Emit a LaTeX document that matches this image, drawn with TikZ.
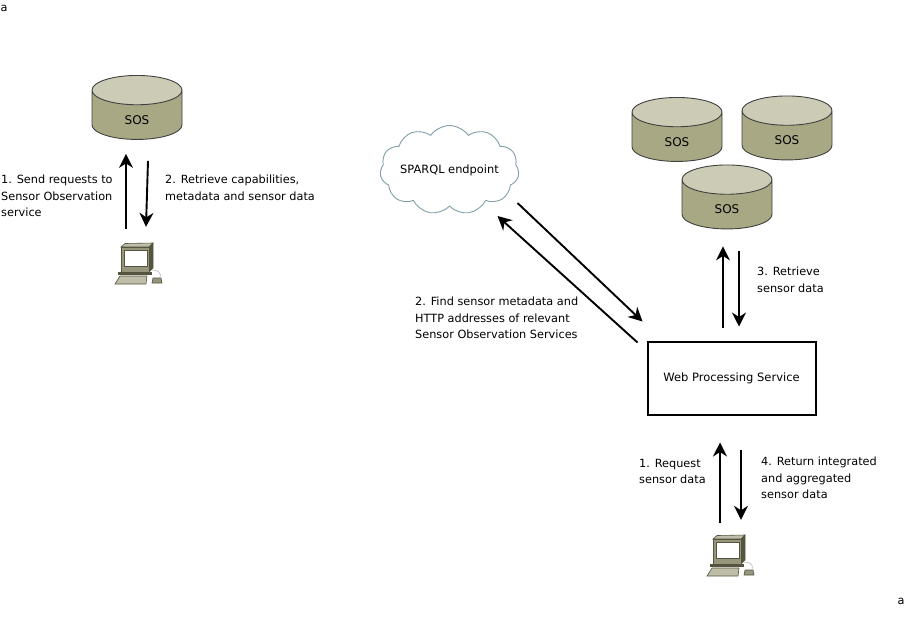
\documentclass[tikz,border=0pt]{standalone}
\usepackage{fontspec}
\setmainfont{DejaVu Sans}
\usepackage{xcolor}
\usetikzlibrary{shapes.geometric, shapes.symbols, arrows.meta, positioning}

\definecolor{sosbody}{HTML}{A8A884}
\definecolor{sostop}{HTML}{CCCCB6}
\definecolor{clouddraw}{HTML}{7F9EA8}
\definecolor{pcdark}{HTML}{55553F}
\definecolor{pcmid}{HTML}{96967C}
\definecolor{pclight}{HTML}{BEBEA8}

\tikzset{
  pics/computer/.style={code={
    \filldraw[fill=pclight, draw=pcdark, line width=0.6pt] (-16,-18) -- (-12,-21.5) -- (16,-22) -- (12,-18) -- cycle;
    \filldraw[fill=pcdark, draw=pcdark, line width=0.6pt] (12,-18) -- (16,-22) -- (16,3) -- (12,7) -- cycle;
    \filldraw[fill=pcmid, draw=pcdark, line width=0.8pt] (-16,-18) rectangle (12,7);
    \filldraw[fill=white, draw=pcdark, line width=0.6pt] (-13,-15) rectangle (10,1);
    \fill[pcdark] (-19,7) rectangle (15,10);
    \filldraw[fill=pclight, draw=pcdark, line width=0.6pt] (-17,11) -- (10,11) -- (9,19) -- (-22,19) -- cycle;
    \filldraw[fill=pcmid, draw=pcdark, line width=0.6pt] (16,13) -- (24,13) -- (25,18) -- (15,18) -- cycle;
    \draw[gray!50, line width=0.7pt] (15,5) .. controls (20,5) and (25,7) .. (23,13);
  }}
}

\begin{document}
\begin{tikzpicture}[
  x=1pt, y=-1pt,
  sos/.style={cylinder, shape border rotate=90, aspect=1.5, draw=black!75, line width=0.9pt, cylinder uses custom fill, cylinder body fill=sosbody, cylinder end fill=sostop, minimum width=90pt, minimum height=64pt, inner sep=0pt, font=\fontsize{9.5}{11}\selectfont},
  sosname/.style={yshift=-5pt, inner sep=0pt, font=\fontsize{12}{13}\selectfont},
  endpoint/.style={cloud, cloud puffs=11, cloud puff arc=110, aspect=1.5, draw=clouddraw, line width=0.9pt, minimum width=139pt, minimum height=89pt, inner sep=-12pt, font=\fontsize{11.4}{13}\selectfont},
  service/.style={rectangle, draw, line width=2pt, minimum width=168pt, minimum height=73pt, font=\fontsize{11.5}{13}\selectfont},
  station/.style={minimum width=46pt, minimum height=42pt, inner sep=0pt},
  note/.style={align=left, inner sep=0pt, font=\fontsize{11.3}{16.3}\selectfont},
  arrow/.style={-{Stealth[length=14pt,width=14pt]}, line width=1.9pt}
]
  \useasboundingbox (0,0) rectangle (904,625);
  \node[note] (markA) at (4,8) {a};
  \node[note] (markB) at (901,601) {a};

  % left side
  \node[sos, label={[sosname]center:SOS}] (sosA) at (137,115) {\phantom{SOS}};
  \node[station] (pcA) at (137,265) {};
  \pic at (pcA) {computer};
  \node[note, anchor=north west] (sendA) at (1,175) {1. Send requests to\\Sensor Observation\\service};
  \node[note, anchor=north west] (getA) at (165,175) {2. Retrieve capabilities,\\metadata and sensor data};
  \draw[arrow] ([xshift=-11pt,yshift=15pt]pcA.north) -- ([xshift=-11pt,yshift=-14pt]sosA.south);
  \draw[arrow] ([xshift=11pt,yshift=-21pt]sosA.south) -- ([xshift=9pt,yshift=17pt]pcA.north);

  % right side
  \node[endpoint] (sparql) at (449.5,170) {SPARQL endpoint};
  \node[sos, label={[sosname]center:SOS}] (sosB) at (677,137) {\phantom{SOS}};
  \node[sos, label={[sosname]center:SOS}] (sosC) at (787,135.5) {\phantom{SOS}};
  \node[sos, label={[sosname]center:SOS}] (sosD) at (727,204.5) {\phantom{SOS}};
  \node[service] (wps) at (731.5,378) {Web Processing Service};
  \node[station] (pcB) at (729,557) {};
  \pic at (pcB) {computer};
  \node[note, anchor=north west] (findB) at (415,297) {2. Find sensor metadata and\\HTTP addresses of relevant\\Sensor Observation Services};
  \node[note, anchor=north west] (getB) at (757,267) {3. Retrieve\\sensor data};
  \node[note, anchor=north west] (askB) at (639,459) {1. Request\\sensor data};
  \node[note, anchor=north west] (backB) at (761,457) {4. Return integrated\\and aggregated\\sensor data};
  \draw[arrow] ([xshift=-9pt,yshift=-2pt]wps.north west) -- ([xshift=48pt,yshift=-46pt]sparql.center);
  \draw[arrow] ([xshift=68pt,yshift=-33pt]sparql.center) -- ([xshift=-4pt,yshift=19pt]wps.north west);
  \draw[arrow] ([xshift=-8.5pt,yshift=13pt]wps.north) -- ([xshift=-4pt,yshift=-17pt]sosD.south);
  \draw[arrow] ([xshift=12pt,yshift=-22pt]sosD.south) -- ([xshift=7.5pt,yshift=14pt]wps.north);
  \draw[arrow] ([xshift=-9pt,yshift=13pt]pcB.north) -- ([xshift=-11.5pt,yshift=-27pt]wps.south);
  \draw[arrow] ([xshift=9.5pt,yshift=-34pt]wps.south) -- ([xshift=12pt,yshift=16pt]pcB.north);
\end{tikzpicture}
\end{document}
